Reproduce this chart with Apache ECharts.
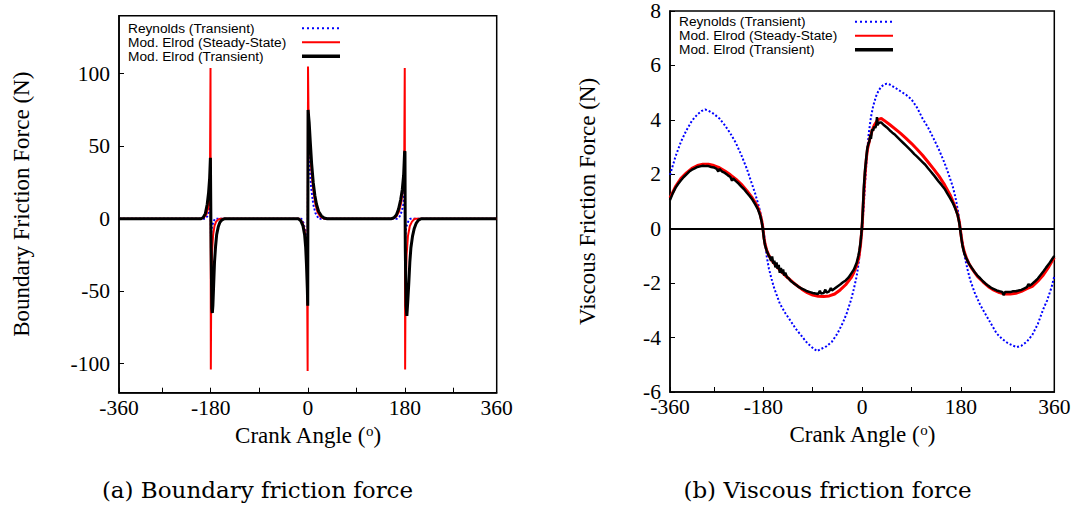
<!DOCTYPE html>
<html><head><meta charset="utf-8">
<script src="https://cdn.jsdelivr.net/npm/echarts@6/dist/echarts.min.js"></script>
<style>html,body{margin:0;padding:0;background:#fff}#c{width:1075px;height:506px}</style>
</head><body><div id="c"></div>
<script>
// ---------- labels ----------
const seriesNames = ['Reynolds (Transient)', 'Mod. Elrod (Steady-State)', 'Mod. Elrod (Transient)'];
const xTickValues = [-350, -270, -180, -90, 0, 90, 180, 270, 350];
const xLabelValues = [-350, -180, 0, 180, 350];
const xLabelTexts = ['-360', '-180', '0', '180', '360'];
const leftYTicks = [-100, -50, 0, 50, 100];
const xTitle = 'Crank Angle ({sup|o})';
const leftYTitle = 'Boundary Friction Force (N)';
const rightYTitle = 'Viscous Friction Force (N)';
const captions = ['(a) Boundary friction force', '(b) Viscous friction force'];

// ---------- (a) boundary friction [crank angle, force N] ----------
const boundaryReynolds = [[-350,0],[-190,0],[-186,2],[-183,6],[-181,14],[-180.3,22],[-179.7,-12],[-178,-6],[-175,-2],[-172,0],
  [-12,0],[-8,-3],[-5,-8],[-2,-18],[-0.5,-30],[0.5,50],[3,38],[6,22],[10,10],[14,4],[20,0],
  [165,0],[170,1.5],[174,5],[177,10],[179.5,22],[180.3,-14],[182,-6],[186,-2],[190,0],[350,0]];
const boundaryElrodSS = [[-350,0],[-198,0],[-192,1],[-188,3],[-185,7],[-183,13],[-181.5,24],[-180.4,104],[-179.8,-104],[-179,-45],
  [-177.5,-22],[-175.5,-11],[-173,-5],[-170,-2],[-166,-0.5],[-162,0],
  [-16,0],[-10,-2.5],[-6,-8],[-3.5,-18],[-1.5,-35],[-0.4,-105],[0.3,105],[1.5,64],[4,48],[7,32],[10,20],[14,10],[18,4.5],[23,1.5],[30,0],
  [157,0],[164,1.5],[169,5],[173,11],[176,20],[178.5,32],[179.6,104],[180.3,-104],[181,-50],[183,-25],[185.5,-12],[189,-5],[193,-2],[198,0],[350,0]];
const boundaryElrodTr = [[-350,0],[-198,0],[-194,0.8],[-190,3.5],[-186.5,10],[-184,18],[-182,28],[-180.6,42],[-180.1,42],[-179.3,-20],
  [-178,-62],[-177,-65],[-176,-60],[-174.5,-45],[-173,-30],[-171,-19],[-169,-11],[-166,-5.5],[-163,-2.5],[-159,-0.8],[-154,0],
  [-18,0],[-13,-1.5],[-9,-5],[-6,-11],[-4,-20],[-2.5,-32],[-1,-48],[-0.2,-60],[0.2,-60],[0.4,75],[1.2,75],[2.5,66],[4.5,53],[7,38],[10,25],[13,16],[16,10],[20,5],[25,2],[30,0.5],[36,0],
  [155,0],[160,0.8],[164,2.5],[168,6.5],[172,13],[175,20],[177.5,30],[179.3,46],[180,46.5],[180.6,-20],[182,-60],[183.5,-67],[185,-58],
  [187,-45],[189,-30],[191,-20],[194,-12],[197,-7],[201,-3],[205,-1],[210,0],[350,0]];

// ---------- (b) viscous friction [crank angle, force N] ----------
const viscousReynolds = [[-350,1.98],[-340,2.65],[-330,3.2],[-320,3.62],[-310,3.97],[-300,4.2],[-292,4.33],[-286,4.38],[-280,4.34],[-270,4.22],
  [-260,4.05],[-250,3.8],[-240,3.5],[-230,3.15],[-220,2.7],[-210,2.2],[-200,1.6],[-195,1.3],[-190,0.95],[-186,0.65],[-183,0.35],[-180,0],
  [-177,-0.45],[-174,-1.0],[-170,-1.45],[-165,-1.85],[-160,-2.2],[-150,-2.75],[-140,-3.1],[-130,-3.4],[-120,-3.7],[-110,-3.95],[-100,-4.2],
  [-90,-4.38],[-82,-4.5],[-75,-4.42],[-65,-4.32],[-55,-4.15],[-45,-3.85],[-35,-3.45],[-28,-3.1],[-20,-2.6],[-15,-2.2],[-10,-1.75],[-6,-1.2],
  [-3,-0.6],[0,0],[3,0.9],[6,1.9],[9,2.8],[12,3.5],[16,4.1],[20,4.5],[25,4.85],[30,5.08],[35,5.22],[40,5.3],[45,5.33],[50,5.3],[60,5.18],
  [70,5.05],[80,4.92],[90,4.75],[100,4.45],[110,4.05],[120,3.72],[130,3.32],[140,2.9],[150,2.42],[155,2.15],[160,1.85],[165,1.55],[170,1.15],
  [175,0.6],[179,0],[183,-0.55],[187,-1.05],[192,-1.5],[197,-1.9],[205,-2.35],[215,-2.8],[225,-3.15],[235,-3.5],[245,-3.85],[255,-4.05],
  [265,-4.2],[275,-4.3],[282,-4.35],[290,-4.3],[300,-4.15],[310,-3.9],[320,-3.5],[330,-2.95],[337,-2.63],[345,-2.15],[350,-1.75]];
const viscousElrodSS = [[-350,1.13],[-340,1.55],[-330,1.85],[-320,2.05],[-310,2.22],[-300,2.32],[-290,2.37],[-280,2.37],[-270,2.32],[-260,2.24],
  [-250,2.12],[-240,1.98],[-230,1.82],[-220,1.63],[-210,1.4],[-200,1.13],[-195,0.97],[-190,0.78],[-186,0.55],[-183,0.3],[-181,0.05],[-179,-0.3],
  [-177,-0.55],[-174,-0.78],[-170,-0.98],[-165,-1.15],[-160,-1.28],[-150,-1.52],[-140,-1.72],[-130,-1.9],[-120,-2.07],[-110,-2.22],[-100,-2.35],
  [-90,-2.44],[-80,-2.48],[-70,-2.49],[-60,-2.47],[-50,-2.4],[-40,-2.25],[-30,-2.06],[-20,-1.8],[-15,-1.6],[-10,-1.35],[-6,-1.05],[-3,-0.6],
  [0,0.1],[2,0.9],[4,1.6],[6,2.2],[8,2.65],[10,2.95],[14,3.3],[18,3.6],[22,3.8],[26,3.93],[30,4.02],[35,4.05],[40,3.98],[50,3.83],[60,3.67],
  [70,3.5],[80,3.32],[90,3.13],[100,2.92],[110,2.7],[120,2.45],[130,2.2],[140,1.93],[150,1.62],[160,1.25],[165,1.02],[170,0.77],[174,0.52],
  [177,0.25],[179,-0.05],[181,-0.35],[183,-0.6],[186,-0.85],[190,-1.08],[195,-1.3],[200,-1.47],[210,-1.75],[220,-1.95],[230,-2.13],[240,-2.26],
  [250,-2.35],[260,-2.4],[270,-2.4],[280,-2.37],[290,-2.3],[300,-2.2],[310,-2.12],[320,-1.93],[330,-1.7],[340,-1.4],[350,-1.05]];
const viscousElrodTr = [[-350,1.05],[-345,1.3],[-340,1.5],[-335,1.65],[-330,1.78],[-325,1.9],[-320,2.0],[-315,2.1],[-310,2.17],[-305,2.22],
  [-300,2.27],[-295,2.29],[-290,2.31],[-285,2.3],[-280,2.3],[-275,2.27],[-270,2.25],[-265,2.2],[-262,2.1],[-260,2.2],[-255,2.1],[-250,2.05],
  [-245,1.97],[-240,1.9],[-237,1.76],[-235,1.85],[-230,1.75],[-225,1.66],[-220,1.55],[-215,1.45],[-210,1.32],[-205,1.2],[-200,1.07],[-195,0.9],
  [-190,0.72],[-186,0.5],[-183,0.25],[-181,0],[-179,-0.35],[-177,-0.6],[-174,-0.8],[-171,-0.95],[-168,-1.05],[-166,-1.18],[-164,-1.02],
  [-162,-1.28],[-160,-1.18],[-158,-1.42],[-156,-1.24],[-154,-1.47],[-152,-1.33],[-150,-1.62],[-148,-1.44],[-146,-1.64],[-144,-1.5],[-142,-1.72],
  [-140,-1.62],[-137,-1.78],[-134,-1.82],[-130,-1.92],[-125,-2.0],[-120,-2.07],[-115,-2.15],[-110,-2.2],[-105,-2.25],[-100,-2.3],[-95,-2.33],
  [-90,-2.36],[-85,-2.38],[-80,-2.4],[-77,-2.28],[-75,-2.38],[-70,-2.36],[-67,-2.24],[-65,-2.35],[-60,-2.3],[-57,-2.18],[-55,-2.27],[-50,-2.2],
  [-45,-2.12],[-40,-2.05],[-35,-1.97],[-30,-1.9],[-25,-1.8],[-20,-1.65],[-15,-1.5],[-10,-1.25],[-7,-1.0],[-5,-0.8],[-3,-0.5],[-1.5,-0.2],
  [0,0.2],[1.5,0.8],[3,1.5],[5,2.1],[7,2.5],[9,2.9],[11,3.1],[13,3.2],[15,3.45],[16,3.3],[18,3.65],[20,3.6],[22,3.75],[24,3.7],[26,3.85],
  [27,4.1],[28,3.8],[30,3.88],[32,3.9],[35,3.9],[40,3.8],[45,3.72],[50,3.62],[55,3.53],[60,3.45],[65,3.35],[70,3.25],[75,3.15],[80,3.05],
  [85,2.95],[90,2.85],[95,2.74],[100,2.65],[105,2.55],[110,2.45],[115,2.35],[120,2.22],[125,2.1],[130,1.98],[135,1.85],[140,1.72],[145,1.6],
  [150,1.47],[155,1.3],[160,1.13],[165,0.95],[170,0.72],[174,0.5],[177,0.2],[179,-0.1],[181,-0.4],[183,-0.65],[186,-0.9],[190,-1.1],
  [195,-1.3],[200,-1.45],[205,-1.6],[210,-1.72],[215,-1.82],[220,-1.93],[225,-2.02],[230,-2.1],[235,-2.17],[240,-2.22],[245,-2.27],[250,-2.3],
  [255,-2.32],[258,-2.44],[260,-2.33],[265,-2.33],[270,-2.33],[275,-2.3],[280,-2.3],[285,-2.27],[290,-2.25],[295,-2.2],[300,-2.15],[303,-2.03],
  [305,-2.1],[310,-2.02],[315,-1.93],[320,-1.83],[325,-1.7],[330,-1.57],[335,-1.43],[340,-1.3],[345,-1.15],[350,-1.0]];

// ---------- chart ----------
const SERIF = "'Liberation Serif', 'Times New Roman', Tinos, 'Nimbus Roman', Times, serif";
const SANS = "'Liberation Sans', Arial, sans-serif";
const axisText = {fontFamily: SERIF, fontSize: 21.5, color: '#000'};
const titleText = {fontFamily: SERIF, fontSize: 23, color: '#000'};

function xAxisDef(gridIndex) {
  return {
    type: 'value', gridIndex, min: -350, max: 350,
    name: xTitle, nameLocation: 'middle', nameGap: 25,
    nameTextStyle: Object.assign({}, titleText, {rich: {sup: {fontFamily: SERIF, fontSize: 15, lineHeight: 8, verticalAlign: 'top', color: '#000'}}}),
    axisLine: {show: true, onZero: false, lineStyle: {color: '#000', width: 1.5}},
    axisTick: {show: true, inside: true, length: 5, customValues: xTickValues, lineStyle: {color: '#000', width: 1}},
    axisLabel: Object.assign({}, axisText, {margin: 4, customValues: xLabelValues,
      formatter: v => xLabelTexts[xLabelValues.indexOf(v)]}),
    splitLine: {show: false}
  };
}

const hiddenMarker = {color: 'rgba(0,0,0,0)', borderColor: 'rgba(0,0,0,0)', borderWidth: 0};
const legendData = [
  {name: seriesNames[0], itemStyle: hiddenMarker, lineStyle: {width: 2, type: [2, 3], color: '#0000ff'}},
  {name: seriesNames[1], itemStyle: hiddenMarker, lineStyle: {width: 2, color: '#ff0000'}},
  {name: seriesNames[2], itemStyle: hiddenMarker, lineStyle: {width: 3.5, color: '#000'}}
];
function legendDef(left, top, h, w) {
  return {
    left, top, orient: 'vertical', align: 'right', padding: 0,
    itemWidth: 38, itemHeight: h, itemGap: 0, selectedMode: false,
    formatter: '{t|{name}}',
    textStyle: {fontFamily: SANS, fontSize: 13.7, color: '#000',
      rich: {t: {width: w, align: 'left', fontFamily: SANS, fontSize: 13.7, lineHeight: h, color: '#000'}}},
    data: legendData
  };
}

function line(name, data, xi, color, width, type, z) {
  return {name, type: 'line', xAxisIndex: xi, yAxisIndex: xi, data, symbol: 'none', showSymbol: false,
    lineStyle: {color, width, type}, itemStyle: {color}, z, animation: false, emphasis: {disabled: true}};
}

const chart = echarts.init(document.getElementById('c'), null, {renderer: 'svg'});
const zeroSeries = line(seriesNames[2], viscousElrodTr, 1, '#000', 2.5, 'solid', 4);
zeroSeries.markLine = {silent: true, symbol: 'none', animation: false, label: {show: false},
  lineStyle: {color: '#000', width: 2, type: 'solid'}, emphasis: {disabled: true}, data: [{yAxis: 0}]};

chart.setOption({
  animation: false,
  backgroundColor: '#fff',
  grid: [
    {left: 119, top: 15.7, width: 377.7, height: 377, show: true, borderColor: '#000', borderWidth: 1.5, containLabel: false},
    {left: 670, top: 7.3, width: 384.3, height: 384.7, show: true, borderColor: '#000', borderWidth: 1.5, containLabel: false}
  ],
  xAxis: [xAxisDef(0), xAxisDef(1)],
  yAxis: [
    {type: 'value', gridIndex: 0, min: -120, max: 140,
      name: leftYTitle, nameLocation: 'middle', nameGap: 86, nameRotate: 90, nameTextStyle: titleText,
      axisLine: {show: true, onZero: false, lineStyle: {color: '#000', width: 1.5}},
      axisTick: {show: true, inside: true, length: 5, customValues: leftYTicks, lineStyle: {color: '#000', width: 1}},
      axisLabel: Object.assign({}, axisText, {margin: 9, customValues: leftYTicks}),
      splitLine: {show: false}},
    {type: 'value', gridIndex: 1, min: -6, max: 8, interval: 2,
      name: rightYTitle, nameLocation: 'middle', nameGap: 71, nameRotate: 90, nameTextStyle: titleText,
      axisLine: {show: true, onZero: false, lineStyle: {color: '#000', width: 1.5}},
      axisTick: {show: true, inside: true, length: 5, lineStyle: {color: '#000', width: 1}},
      axisLabel: Object.assign({}, axisText, {margin: 9}),
      splitLine: {show: false}}
  ],
  legend: [legendDef(128, 21.2, 14.2, 169), legendDef(679, 14.8, 13.8, 171)],
  series: [
    line(seriesNames[0], boundaryReynolds, 0, '#0000ff', 2, [2, 2], 2),
    line(seriesNames[1], boundaryElrodSS, 0, '#ff0000', 2, 'solid', 3),
    line(seriesNames[2], boundaryElrodTr, 0, '#000', 3, 'solid', 4),
    line(seriesNames[0], viscousReynolds, 1, '#0000ff', 2, [2, 2], 2),
    line(seriesNames[1], viscousElrodSS, 1, '#ff0000', 3, 'solid', 3),
    zeroSeries
  ],
  graphic: [
    {type: 'text', x: 257.5, y: 490, silent: true,
      style: {text: captions[0], fontFamily: 'DejaVu Serif', fontSize: 23, fill: '#000', align: 'center', verticalAlign: 'middle', textAlign: 'center', textVerticalAlign: 'middle'}},
    {type: 'text', x: 827.5, y: 490, silent: true,
      style: {text: captions[1], fontFamily: 'DejaVu Serif', fontSize: 23, fill: '#000', align: 'center', verticalAlign: 'middle', textAlign: 'center', textVerticalAlign: 'middle'}}
  ]
});
</script>
</body></html>
